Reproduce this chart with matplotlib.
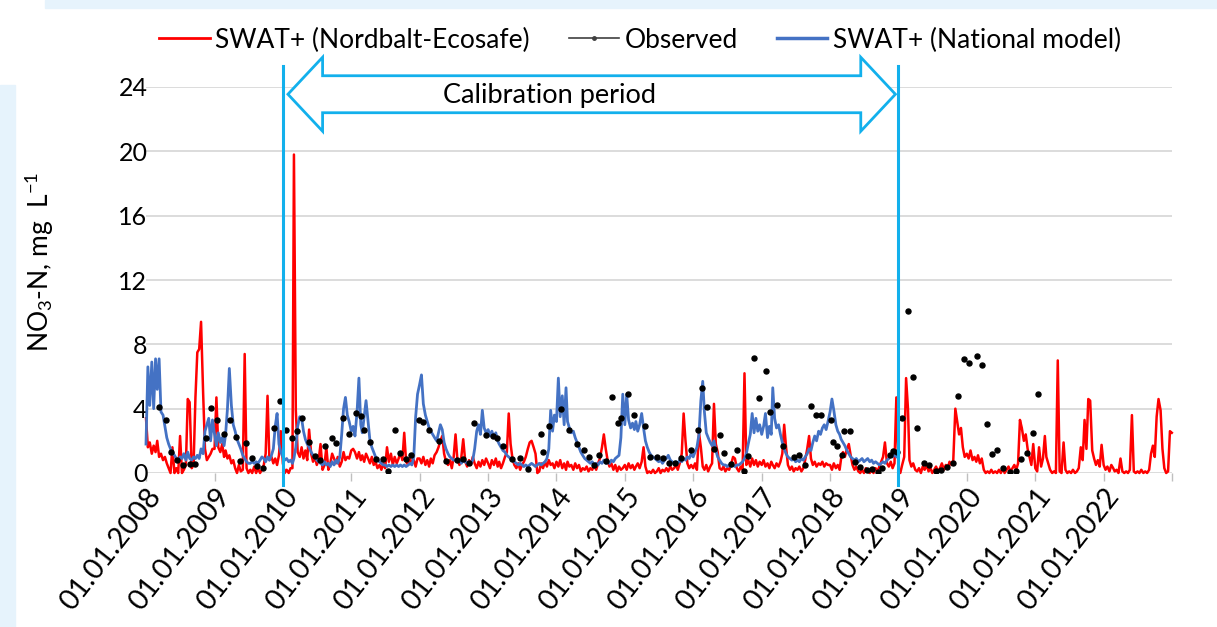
import numpy as np
import pandas as pd
import matplotlib
matplotlib.use("Agg")
import matplotlib.pyplot as plt
import matplotlib.dates as mdates
from matplotlib.lines import Line2D
from matplotlib.patches import Polygon, Rectangle

plt.rcParams['font.family'] = ['Lato', 'DejaVu Sans']
plt.rcParams['mathtext.default'] = 'regular'

# ---- data (~10-day steps: 1st, 11th, 21st of each month) ----
red_2008 = [3.4, 1.6, 1.9, 1.2, 1.7, 1.3, 2.0, 1.0, 1.2, 0.8, 1.0, 0.6,
            0.3, 0.0, 1.6, 0.0, 0.3, 0.0, 2.3, 0.0, 0.2, 0.5, 4.6, 4.4,
            0.3, 0.5, 4.7, 7.5, 7.7, 9.4, 5.0, 1.5, 0.8, 1.0, 1.2, 1.5]
red_2009 = [1.5, 4.7, 1.6, 1.3, 1.8, 1.0, 1.4, 0.9, 1.1, 0.6, 0.8, 0.3,
            0.0, 0.5, 0.1, 0.2, 7.4, 0.3, 0.0, 0.2, 0.0, 0.4, 0.0, 0.3,
            0.0, 0.2, 0.5, 1.2, 4.8, 0.8, 1.0, 0.6, 0.9, 0.5, 1.1, 2.6]
red_2010 = [0.6, 0.0, 0.2, 0.0, 0.3, 0.3, 19.8, 3.9, 1.3, 1.0, 1.6, 0.9,
            1.4, 0.8, 2.7, 1.2, 0.7, 1.0, 0.5, 0.8, 1.8, 0.2, 0.5, 1.6,
            0.2, 0.6, 1.2, 0.9, 0.6, 1.0, 0.4, 0.7, 1.3, 0.8, 1.0, 0.9]
red_2011 = [1.4, 1.5, 1.3, 0.9, 1.3, 0.8, 1.1, 0.7, 1.2, 0.9, 0.6, 1.0,
            0.5, 0.7, 0.3, 0.5, 0.2, 0.6, 0.3, 1.6, 0.7, 1.2, 0.5, 1.0,
            0.6, 0.9, 1.3, 0.8, 2.5, 0.7, 0.5, 0.9, 0.6, 0.8, 0.4, 0.9]
red_2012 = [0.9, 0.6, 1.0, 0.5, 0.8, 0.4, 0.9, 0.6, 1.1, 1.3, 1.6, 2.0,
            2.3, 1.2, 0.7, 0.5, 0.8, 0.3, 1.0, 2.4, 0.8, 0.5, 1.0, 2.1,
            0.7, 0.4, 0.8, 0.5, 1.0, 0.6, 0.3, 0.7, 0.4, 0.8, 0.5, 0.9]
red_2013 = [0.6, 0.3, 0.8, 0.5, 0.9, 0.4, 0.7, 0.3, 0.6, 1.0, 1.3, 3.7,
            1.8, 0.9, 0.5, 0.3, 0.6, 0.2, 0.5, 0.7, 1.0, 1.5, 1.9, 2.0,
            1.6, 1.2, 0.0, 0.1, 0.6, 0.3, 0.7, 0.4, 0.8, 0.5, 0.6, 0.3]
red_2014 = [0.7, 0.4, 0.8, 0.3, 0.6, 0.2, 0.7, 0.4, 0.5, 0.2, 0.6, 0.3,
            0.5, 0.1, 0.3, 0.2, 0.4, 0.1, 0.3, 0.2, 0.5, 0.2, 0.6, 0.9,
            1.6, 2.4, 1.5, 0.8, 0.4, 0.6, 0.2, 0.5, 0.1, 0.4, 0.2, 0.3]
red_2015 = [0.5, 0.2, 0.6, 0.3, 0.5, 0.2, 0.4, 0.6, 0.3, 0.7, 1.6, 0.4,
            0.0, 0.1, 0.0, 0.2, 0.0, 0.1, 0.3, 0.0, 0.2, 0.1, 0.3, 0.1,
            0.4, 0.2, 0.3, 0.5, 0.2, 0.6, 1.2, 3.7, 2.0, 0.6, 0.3, 0.5]
red_2016 = [0.3, 0.6, 0.2, 2.5, 1.6, 0.4, 0.2, 0.5, 0.1, 0.4, 0.6, 4.3,
            1.8, 1.3, 0.3, 0.2, 0.4, 0.1, 0.3, 0.2, 0.5, 1.0, 0.9, 0.3,
            0.1, 0.4, 0.2, 6.2, 0.5, 0.8, 0.4, 0.9, 0.5, 0.8, 0.4, 0.7]
red_2017 = [0.5, 0.8, 0.4, 0.6, 0.3, 0.7, 0.5, 0.3, 0.6, 0.4, 0.7, 1.2,
            3.0, 1.6, 0.5, 0.2, 0.4, 0.1, 0.3, 0.2, 0.4, 0.1, 0.3, 0.8,
            1.5, 2.3, 0.9, 0.5, 0.7, 0.4, 0.6, 0.5, 0.7, 0.4, 0.6, 0.5]
red_2018 = [0.5, 0.2, 0.6, 0.3, 0.5, 0.2, 0.9, 1.3, 1.0, 1.5, 1.8, 1.1,
            0.5, 0.2, 0.4, 0.1, 0.0, 0.2, 0.0, 0.3, 0.1, 0.0, 0.2, 0.0,
            0.3, 0.1, 0.4, 0.7, 1.0, 1.9, 0.6, 0.4, 0.7, 0.3, 0.6, 4.7]
red_2019 = [0.3, 0.0, 0.5, 1.0, 5.9, 4.0, 0.8, 0.4, 0.6, 0.2, 0.1, 0.3,
            0.0, 0.4, 0.2, 0.5, 0.1, 0.3, 0.0, 0.2, 0.4, 0.1, 0.3, 0.6,
            0.2, 0.5, 0.3, 0.7, 0.5, 0.8, 4.0, 3.2, 2.4, 2.8, 1.6, 1.0]
red_2020 = [1.2, 0.9, 1.4, 0.8, 1.0, 0.7, 1.1, 0.6, 0.9, 0.2, 0.0, 0.1,
            0.0, 0.2, 0.0, 0.1, 0.0, 0.2, 0.0, 0.3, 0.0, 0.2, 0.4, 0.1,
            0.3, 0.5, 0.2, 0.6, 3.3, 2.8, 2.0, 2.4, 1.5, 1.0, 0.5, 1.8]
red_2021 = [0.3, 0.1, 1.6, 0.4, 0.9, 2.3, 1.0, 0.6, 0.2, 0.0, 0.1, 0.0,
            7.0, 0.1, 0.0, 1.9, 0.2, 0.0, 0.1, 0.0, 0.2, 0.0, 0.1, 0.3,
            1.6, 0.8, 3.3, 1.5, 4.6, 4.5, 1.4, 0.9, 0.5, 0.8, 0.4, 1.75]
red_2022 = [0.5, 0.2, 0.4, 0.1, 0.5, 0.3, 0.1, 0.2, 0.0, 0.9, 0.1, 0.0,
            0.1, 0.0, 0.2, 3.6, 0.1, 0.0, 0.1, 0.0, 0.2, 0.0, 0.1, 0.0,
            0.2, 1.2, 1.7, 1.0, 3.5, 4.6, 3.9, 1.5, 0.3, 0.0, 0.1, 2.6]
red_last = 2.5

blue_2008 = [1.8, 6.6, 4.2, 6.9, 4.0, 7.1, 5.2, 7.1, 3.8, 3.6, 2.9, 2.2,
             1.8, 1.5, 1.3, 1.1, 0.9, 0.8, 1.0, 0.9, 1.2, 0.8, 1.3, 0.9,
             0.8, 1.0, 0.9, 1.1, 0.9, 1.5, 1.2, 2.6, 3.0, 3.4, 2.0, 3.3]
blue_2009 = [2.4, 1.7, 2.5, 1.9, 2.2, 1.7, 2.4, 4.0, 6.5, 4.2, 3.0, 2.6,
             2.1, 1.8, 1.5, 1.1, 0.9, 0.7, 0.6, 0.6, 0.7, 0.6, 0.7, 0.6,
             0.8, 1.0, 0.9, 0.7, 1.0, 0.8, 1.1, 1.5, 2.9, 3.7, 1.8, 1.3]
blue_2010 = [1.0, 0.8, 0.9, 0.7, 0.8, 0.6, 0.9, 1.6, 2.9, 3.5, 3.4, 2.6,
             2.1, 1.8, 1.6, 1.3, 1.1, 1.0, 0.8, 0.7, 0.6, 0.5, 0.7, 0.5,
             0.6, 0.4, 0.7, 0.5, 0.8, 0.6, 1.0, 2.4, 4.0, 4.7, 3.6, 3.2]
blue_2011 = [2.6, 2.9, 2.3, 3.8, 5.9, 3.0, 2.5, 3.5, 4.5, 3.2, 2.0, 1.6,
             1.3, 1.0, 0.8, 0.7, 0.6, 0.5, 0.5, 0.4, 0.5, 0.4, 0.5, 0.4,
             0.5, 0.4, 0.5, 0.4, 0.5, 0.4, 0.5, 0.6, 0.5, 1.0, 3.5, 4.9]
blue_2012 = [5.5, 6.1, 4.3, 3.6, 3.2, 2.8, 2.6, 2.4, 2.2, 2.0, 2.5, 3.0,
             2.7, 1.9, 1.5, 1.2, 1.0, 0.9, 0.8, 0.8, 0.7, 0.8, 0.6, 0.8,
             0.7, 0.6, 0.7, 0.6, 0.8, 1.5, 2.6, 3.0, 2.4, 3.9, 2.8, 2.5]
blue_2013 = [2.7, 2.3, 2.6, 2.2, 2.5, 2.0, 1.8, 1.6, 1.4, 1.3, 1.1, 1.0,
             0.9, 0.8, 0.7, 0.6, 0.5, 0.6, 0.5, 0.4, 0.5, 0.4, 0.5, 0.6,
             0.5, 0.4, 0.5, 0.6, 0.5, 0.6, 0.7, 0.9, 1.5, 3.9, 2.6, 3.6]
blue_2014 = [3.2, 5.9, 3.5, 4.8, 3.0, 5.3, 3.2, 2.8, 2.5, 2.6, 2.2, 1.9,
             1.6, 1.3, 1.1, 0.9, 0.8, 0.7, 0.6, 0.7, 0.5, 0.6, 0.5, 0.7,
             0.6, 0.8, 0.6, 0.7, 0.6, 0.8, 0.7, 0.9, 1.0, 1.1, 2.2, 4.9]
blue_2015 = [3.0, 4.9, 3.3, 2.8, 3.1, 2.7, 3.2, 2.6, 3.0, 3.7, 2.8, 2.0,
             1.6, 1.3, 1.1, 1.0, 0.9, 0.8, 0.7, 0.8, 0.6, 0.8, 0.9, 1.1,
             0.8, 0.7, 0.6, 0.7, 0.6, 0.8, 0.7, 0.9, 0.8, 1.0, 0.9, 1.2]
blue_2016 = [1.0, 1.3, 1.6, 2.4, 4.5, 5.7, 3.8, 2.5, 2.2, 1.9, 1.7, 2.0,
             1.4, 1.0, 0.8, 0.6, 0.5, 0.5, 0.4, 0.5, 0.4, 0.5, 0.4, 0.5,
             0.5, 0.6, 0.7, 0.9, 1.2, 1.8, 2.4, 3.7, 2.5, 3.4, 2.6, 3.0]
blue_2017 = [2.4, 2.9, 3.7, 2.2, 2.9, 2.4, 5.3, 3.4, 2.8, 3.0, 2.4, 1.9,
             1.5, 1.2, 1.0, 0.9, 0.8, 0.9, 0.7, 0.8, 0.7, 0.9, 0.8, 1.0,
             1.2, 1.5, 1.4, 1.9, 2.3, 2.0, 2.6, 2.4, 2.8, 3.0, 2.7, 3.2]
blue_2018 = [3.8, 4.6, 3.9, 3.0, 2.6, 2.4, 2.1, 1.9, 1.7, 1.4, 1.2, 1.0,
             0.9, 0.8, 0.9, 0.7, 0.8, 0.9, 0.7, 0.8, 0.9, 0.7, 0.8, 0.6,
             0.7, 0.6, 0.5, 0.6, 0.7, 0.6, 0.8, 0.9, 1.1, 1.0, 1.2, 1.0]
blue_last = 1.0

obs_dates = ['2008-03-12', '2008-04-19', '2008-05-14', '2008-06-12', '2008-07-19', '2008-08-21',
             '2008-09-19', '2008-11-16', '2008-12-15', '2009-01-13', '2009-02-20', '2009-03-25',
             '2009-04-27', '2009-05-19', '2009-06-17', '2009-07-20', '2009-08-18', '2009-09-16',
             '2009-11-14', '2009-12-16', '2010-01-18', '2010-02-20', '2010-03-18', '2010-04-12',
             '2010-05-22', '2010-06-21', '2010-07-16', '2010-08-14', '2010-09-20', '2010-10-12',
             '2010-11-17', '2010-12-20', '2011-01-26', '2011-02-20', '2011-03-10', '2011-04-12',
             '2011-05-11', '2011-06-21', '2011-07-18', '2011-08-22', '2011-09-20', '2011-10-23',
             '2011-11-17', '2011-12-27', '2012-01-18', '2012-02-18', '2012-04-12', '2012-05-22',
             '2012-07-19', '2012-08-18', '2012-09-19', '2012-10-18', '2012-12-19', '2013-01-26',
             '2013-02-20', '2013-03-21', '2013-05-11', '2013-06-21', '2013-07-31', '2013-10-12',
             '2013-10-23', '2013-11-24', '2014-01-26', '2014-03-07', '2014-04-23', '2014-05-30',
             '2014-06-24', '2014-07-23', '2014-08-18', '2014-09-20', '2014-10-23', '2014-11-24',
             '2014-12-13', '2015-01-18', '2015-02-20', '2015-04-20', '2015-05-15', '2015-06-21',
             '2015-07-23', '2015-08-25', '2015-09-27', '2015-10-26', '2015-12-20', '2016-01-26',
             '2016-02-16', '2016-03-17', '2016-04-19', '2016-05-25', '2016-06-16', '2016-07-21',
             '2016-08-21', '2016-09-26', '2016-10-22', '2016-11-20', '2016-12-15', '2017-01-26',
             '2017-02-16', '2017-03-25', '2017-04-23', '2017-06-21', '2017-07-20', '2017-08-22',
             '2017-09-22', '2017-10-19', '2017-11-14', '2018-01-07', '2018-01-15', '2018-02-09',
             '2018-03-07', '2018-03-18', '2018-04-16', '2018-05-15', '2018-06-10', '2018-07-16',
             '2018-08-14', '2018-09-16', '2018-10-08', '2018-11-17', '2018-12-05', '2018-12-24',
             '2019-01-18', '2019-02-20', '2019-03-18', '2019-04-12', '2019-05-19', '2019-06-13',
             '2019-07-20', '2019-08-14', '2019-09-20', '2019-10-19', '2019-11-17', '2019-12-16',
             '2020-01-15', '2020-02-24', '2020-03-20', '2020-04-19', '2020-05-14', '2020-06-12',
             '2020-07-15', '2020-08-17', '2020-09-19', '2020-10-18', '2020-11-20', '2020-12-19',
             '2021-01-18']
obs_values = [4.1, 3.3, 1.3, 0.8, 0.5, 0.55,
              0.55, 2.15, 4.05, 3.3, 2.45, 3.3,
              2.25, 0.75, 1.85, 0.95, 0.45, 0.3,
              2.8, 4.5, 2.7, 2.2, 2.6, 3.4,
              1.95, 1.05, 0.8, 1.7, 2.2, 1.85,
              3.4, 2.4, 3.7, 3.55, 2.7, 1.95,
              0.9, 0.85, 0.12, 2.7, 1.25, 0.9,
              1.1, 3.3, 3.2, 2.7, 2.0, 0.75,
              0.8, 0.85, 0.6, 3.1, 2.35, 2.3,
              2.2, 1.7, 0.87, 0.95, 0.25, 2.4,
              1.33, 2.95, 3.95, 2.65, 1.8, 1.45,
              1.0, 0.5, 1.1, 0.75, 4.7, 3.1,
              3.4, 4.9, 3.6, 2.95, 1.0, 1.0,
              0.95, 0.6, 0.6, 0.95, 1.45, 2.7,
              5.3, 4.1, 1.5, 2.35, 1.25, 0.55,
              1.45, 0.1, 1.05, 7.15, 4.65, 6.35,
              3.8, 4.25, 1.65, 1.0, 1.1, 0.5,
              4.15, 3.6, 3.6, 3.3, 1.95, 1.65,
              1.15, 2.6, 2.6, 0.7, 0.35, 0.2,
              0.25, 0.05, 0.3, 1.1, 1.35, 1.3,
              3.4, 10.1, 5.95, 2.8, 0.6, 0.5,
              0.1, 0.2, 0.4, 0.6, 4.8, 7.1,
              6.85, 7.3, 6.7, 3.05, 1.2, 1.45,
              0.3, 0.05, 0.15, 0.9, 1.25, 2.5,
              4.9]

calib_start = '2010-01-01'
calib_end = '2019-01-01'
tick_years = list(range(2008, 2024))


def slot_dates(year):
    return [pd.Timestamp(year, m, d) for m in range(1, 13) for d in (1, 11, 21)]


red_years = [red_2008, red_2009, red_2010, red_2011, red_2012, red_2013, red_2014, red_2015,
             red_2016, red_2017, red_2018, red_2019, red_2020, red_2021, red_2022]
blue_years = [blue_2008, blue_2009, blue_2010, blue_2011, blue_2012, blue_2013, blue_2014,
              blue_2015, blue_2016, blue_2017, blue_2018]

red_x = [d for i in range(len(red_years)) for d in slot_dates(2008 + i)] + [pd.Timestamp(2022, 12, 31)]
red_y = [v for yr in red_years for v in yr] + [red_last]
blue_x = [d for i in range(len(blue_years)) for d in slot_dates(2008 + i)] + [pd.Timestamp(2018, 12, 31)]
blue_y = [v for yr in blue_years for v in yr] + [blue_last]
obs_x = pd.to_datetime(obs_dates)

# ---- figure ----
W, H = 1217, 627
fig = plt.figure(figsize=(W / 100, H / 100), dpi=100)
fig.patches.append(Rectangle((45 / W, 1 - 8 / H), 1, 8 / H, transform=fig.transFigure,
                             color='#e6f3fc', zorder=0))
fig.patches.append(Rectangle((0, 0), 15 / W, 1 - 85 / H, transform=fig.transFigure,
                             color='#e6f3fc', zorder=0))

ax = fig.add_axes([146 / W, 1 - 473 / H, 1026 / W, 386 / H])
ax.set_facecolor('none')

ax.plot(red_x, red_y, color='#ff0000', lw=1.8, zorder=2, clip_on=False)
ax.plot(blue_x, blue_y, color='#4472c4', lw=2.0, zorder=3, clip_on=False)
ax.plot(obs_x, obs_values, ls='none', marker='o', ms=3.6, color='black', zorder=4)

ax.set_xlim(pd.Timestamp(2008, 1, 1), pd.Timestamp(2023, 1, 1))
ax.set_ylim(0, 24)
ax.set_yticks(np.arange(0, 25, 4))
ax.tick_params(axis='y', length=0, labelsize=18, pad=-1)
ticks = [pd.Timestamp(y, 1, 1) for y in tick_years]
ax.set_xticks(ticks)
ax.set_xticklabels([t.strftime('%d.%m.%Y') for t in ticks[:-1]] + [''])
ax.tick_params(axis='x', length=6, color='#bfbfbf', width=1, labelsize=20.5, pad=2)
for lbl in ax.get_xticklabels():
    lbl.set_rotation(52)
    lbl.set_rotation_mode('anchor')
    lbl.set_ha('right')
    lbl.set_va('top')
ax.grid(axis='y', color='#d9d9d9', lw=1.3)
ax.set_axisbelow(True)
for s in ax.spines.values():
    s.set_visible(False)

ax.set_ylabel('NO$_3$-N, mg  L$^{-1}$', fontsize=19)
ax.yaxis.set_label_coords(-0.088, 0.547)

# calibration period markers
cyan = '#12b0ec'
for d in (calib_start, calib_end):
    ax.axvline(pd.Timestamp(d), ymin=-0.031, ymax=1.054, color=cyan, lw=2.2,
               clip_on=False, zorder=5)

xs = mdates.date2num(pd.Timestamp(calib_start)) + 27
xe = mdates.date2num(pd.Timestamp(calib_end)) - 16
hl, yc, sh, hh = 185, 23.55, 1.15, 2.3
arrow = Polygon([(xs, yc), (xs + hl, yc + hh), (xs + hl, yc + sh), (xe - hl, yc + sh),
                 (xe - hl, yc + hh), (xe, yc), (xe - hl, yc - hh), (xe - hl, yc - sh),
                 (xs + hl, yc - sh), (xs + hl, yc - hh)], closed=True,
                facecolor='white', edgecolor=cyan, lw=2, clip_on=False, zorder=6)
ax.add_patch(arrow)
ax.text(pd.Timestamp(2013, 11, 25), yc - 0.1, 'Calibration period', ha='center', va='center',
        fontsize=19.5, zorder=7)

handles = [Line2D([], [], color='#ff0000', lw=2),
           Line2D([], [], color='#404040', lw=1.2, marker='o', ms=2.5),
           Line2D([], [], color='#4472c4', lw=2.5)]
labels = ['SWAT+ (Nordbalt-Ecosafe)', 'Observed', 'SWAT+ (National model)']
fig.legend(handles, labels, loc='center', bbox_to_anchor=(0.526, 0.936), ncol=3,
           frameon=False, fontsize=19, handlelength=1.9, handletextpad=0.2,
           columnspacing=1.5)

fig.savefig('out.png', dpi=100)
